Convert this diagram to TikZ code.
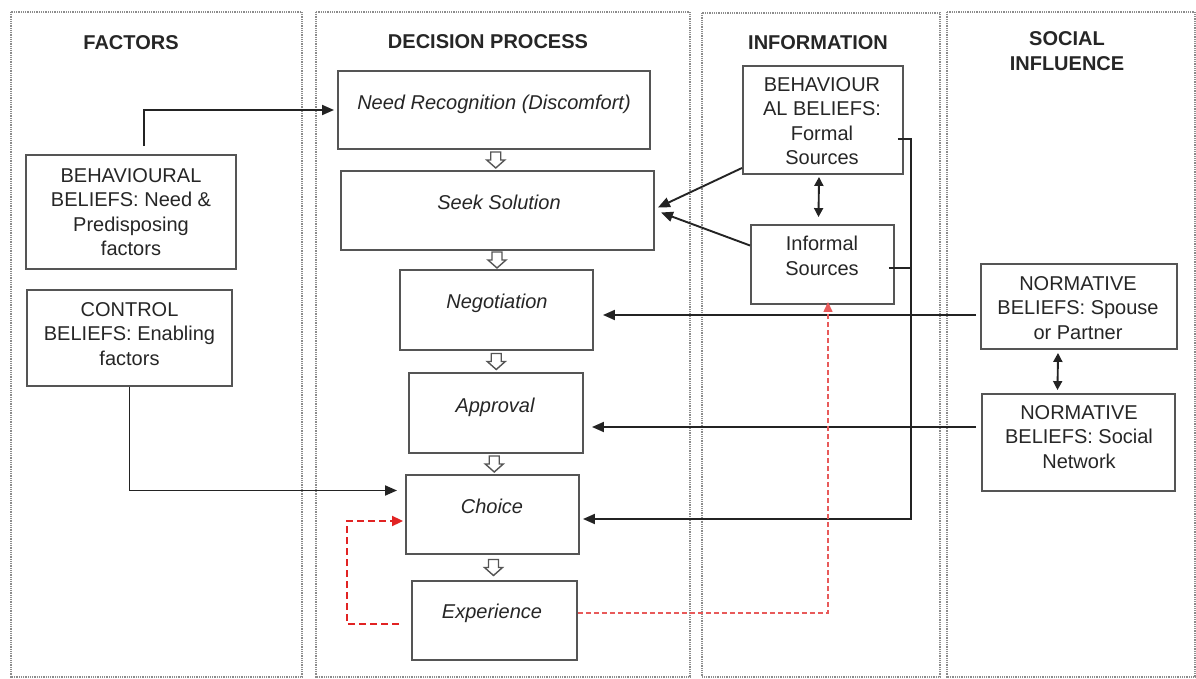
\documentclass[tikz,border=0pt]{standalone}
\usepackage{fontspec}
\setmainfont{Liberation Sans}
\usetikzlibrary{arrows.meta,calc}
\definecolor{boxline}{RGB}{85,85,85}
\definecolor{connline}{RGB}{35,35,35}
\definecolor{panelline}{RGB}{140,140,140}
\definecolor{fbred}{RGB}{225,35,35}
\definecolor{fbpink}{RGB}{232,90,90}
\begin{document}
\begin{tikzpicture}[x=1pt,y=-1pt,
  panel/.style={draw=panelline,line width=1.4pt,dash pattern=on 1pt off 0.8pt},
  box/.style={draw=boxline,line width=1.9pt,fill=white,inner sep=0pt},
  txt/.style={font={\fontsize{20}{24.5}\selectfont},align=center,inner sep=0pt,text=black!85},
  stepbox/.style={txt,font={\fontsize{20}{24.5}\selectfont\itshape},text height=14.5pt,text depth=4pt},
  head/.style={txt,font={\fontsize{20}{24.5}\selectfont\bfseries}},
  conn/.style={draw=connline,line width=1.9pt,-{Triangle[length=12pt,width=10pt]}},
  plain/.style={draw=connline,line width=1.9pt},
  dbl/.style={draw=connline,line width=1.9pt,{Triangle[length=9pt,width=9pt]}-{Triangle[length=9pt,width=9pt]}},
  blk/.style={draw=boxline,line width=1.4pt,fill=white,line join=miter},
  fbthick/.style={draw=fbred,line width=2pt,dash pattern=on 7pt off 4pt,-{Triangle[length=11pt,width=10pt]}},
  fbthin/.style={draw=fbpink,line width=1.4pt,dash pattern=on 5pt off 3pt,-{Triangle[length=10pt,width=9pt]}}
]
\useasboundingbox (0,0) rectangle (1196,679);

% column frames
\draw[panel] (11,12) rectangle (302,677);
\draw[panel] (316,12) rectangle (690,677);
\draw[panel] (702,13) rectangle (940,677);
\draw[panel] (947,12) rectangle (1195,677);

% column headings
\node[head] (hfac) at (131,43) {FACTORS};
\node[head] (hdec) at (488,42) {DECISION PROCESS};
\node[head] (hinf) at (818,43) {INFORMATION};
\node[head] (hsoc) at (1067,51) {SOCIAL\\INFLUENCE};

% factors
\node[box,minimum width=210pt,minimum height=114pt] (bb) at (131,212) {};
\node[txt] (bbt) at (131,212) {BEHAVIOURAL\\BELIEFS: Need \&\\Predisposing\\factors};
\node[box,minimum width=205pt,minimum height=96pt] (cb) at (129.5,338) {};
\node[txt] (cbt) at (129.5,334) {CONTROL\\BELIEFS: Enabling\\factors};

% decision process steps
\node[box,minimum width=312pt,minimum height=78pt] (need) at (494,110) {};
\node[stepbox] (needt) at (494,104) {Need Recognition (Discomfort)};
\node[box,minimum width=313pt,minimum height=79pt] (seek) at (497.5,210.5) {};
\node[stepbox] (seekt) at (499,204) {Seek Solution};
\node[box,minimum width=193pt,minimum height=80pt] (neg) at (496.5,310) {};
\node[stepbox] (negt) at (497,303) {Negotiation};
\node[box,minimum width=174pt,minimum height=80pt] (appr) at (496,413) {};
\node[stepbox] (apprt) at (495,407) {Approval};
\node[box,minimum width=173pt,minimum height=79pt] (choice) at (492.5,514.5) {};
\node[stepbox] (choicet) at (492,508) {Choice};
\node[box,minimum width=165pt,minimum height=79pt] (exper) at (494.5,620.5) {};
\node[stepbox] (expert) at (492,613) {Experience};

% information sources
\node[box,minimum width=160pt,minimum height=108pt] (formal) at (823,120) {};
\node[txt] (formalt) at (822,121) {BEHAVIOUR\\AL BELIEFS:\\Formal\\Sources};
\node[box,minimum width=143pt,minimum height=79pt] (informal) at (822.5,264.5) {};
\node[txt] (informalt) at (822,256) {Informal\\Sources};

% social influence
\node[box,minimum width=196pt,minimum height=85pt] (spouse) at (1079,306.5) {};
\node[txt] (spouset) at (1078,308) {NORMATIVE\\BELIEFS: Spouse\\or Partner};
\node[box,minimum width=193pt,minimum height=97pt] (social) at (1078.5,442.5) {};
\node[txt] (socialt) at (1079,437) {NORMATIVE\\BELIEFS: Social\\Network};

% step-to-step block arrows
\foreach \a/\b in {need/seek,seek/neg,neg/appr,appr/choice,choice/exper}{
  \draw[blk] ($(\a.south)!0.5!(\b.north)$) ++(-5,-8) -- ++(10,0) -- ++(0,8) -- ++(4,0)
    -- ++(-9,8) -- ++(-9,-8) -- ++(4,0) -- cycle;
}

% factor influences
\draw[conn] ([shift={(13,-8)}]bb.north) |- ([shift={(-3,0)}]need.west);
\draw[conn] (cb.south) |- ([shift={(-8,-24)}]choice.west);

% information sources feeding the search
\draw[conn] ([shift={(0,-7)}]formal.south west) -- ([shift={(3,-3)}]seek.east);
\draw[conn] ([shift={(0,-19)}]informal.west) -- ([shift={(6,2)}]seek.east);
\draw[dbl] ([shift={(-4,2)}]formal.south) -- ([shift={(-4,-7)}]informal.north);

% information bus into choice
\coordinate (bus) at (917,0);
\draw[conn] ([shift={(-6,19)}]formal.east) -- ([shift={(-6,19)}]formal.east -| bus)
  |- ([shift={(3,4.5)}]choice.east);
\draw[plain] ([shift={(-6,3.5)}]informal.east) -- ([shift={(-6,3.5)}]informal.east -| bus);

% social influences
\draw[conn] ([shift={(-4,8.5)}]spouse.west) coordinate (sp1) -- ([shift={(9,0)}]sp1 -| neg.east);
\draw[conn] ([shift={(-5,-15.5)}]social.west) coordinate (so1) -- ([shift={(8,0)}]so1 -| appr.east);
\draw[dbl] ([shift={(-21,3)}]spouse.south) -- ([shift={(-21,-3)}]social.north);

% feedback loops from experience
\draw[fbthin] ([shift={(0,-7.5)}]exper.east) -| ([shift={(5.5,-3)}]informal.south);
\draw[fbthick] ([shift={(-12,3.5)}]exper.west) -- ++(-52,0) |- ([shift={(-2,6.5)}]choice.west);
\end{tikzpicture}
\end{document}
